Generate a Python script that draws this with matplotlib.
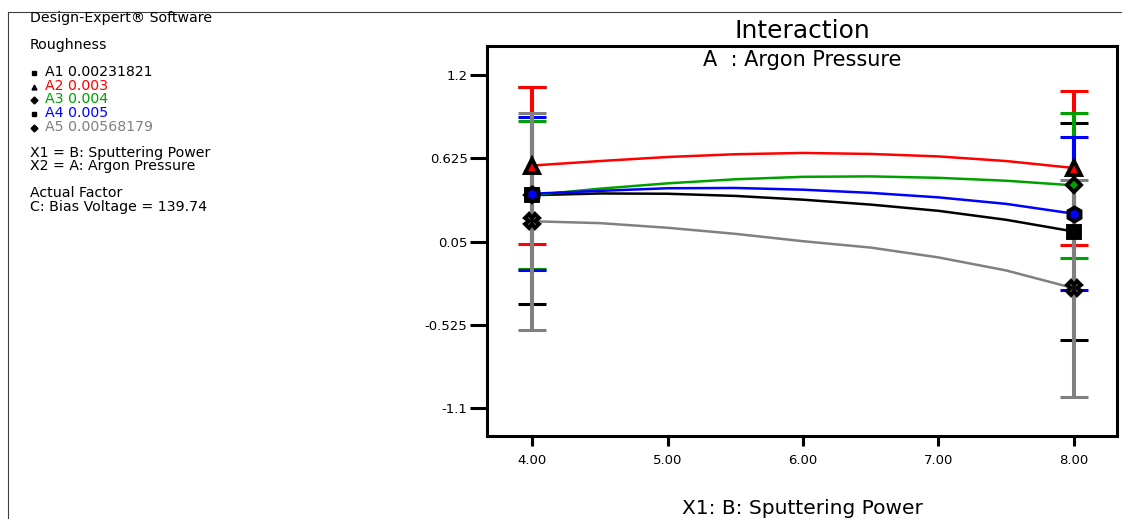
import matplotlib.pyplot as plt

plt.rcParams['font.family'] = ['DejaVu Sans']

# --- data ---
x_power = [4.0, 4.5, 5.0, 5.5, 6.0, 6.5, 7.0, 7.5, 8.0]
a1 = [0.37, 0.382, 0.38, 0.365, 0.339, 0.305, 0.262, 0.20, 0.119]
a2 = [0.575, 0.606, 0.634, 0.653, 0.662, 0.655, 0.638, 0.606, 0.558]
a3 = [0.37, 0.415, 0.452, 0.48, 0.497, 0.50, 0.49, 0.47, 0.438]
a4 = [0.38, 0.40, 0.418, 0.42, 0.408, 0.386, 0.355, 0.31, 0.242]
a5 = [0.19, 0.177, 0.145, 0.103, 0.052, 0.008, -0.06, -0.15, -0.273]

# LSD half widths at the two ends (x = 4 and x = 8)
x_ends = [4.0, 8.0]
lsd_a1 = [0.75, 0.75]
lsd_a2 = [0.54, 0.53]
lsd_a3 = [0.51, 0.50]
lsd_a4 = [0.53, 0.53]
lsd_a5 = [0.75, 0.75]

series_names = ['A1 0.00231821', 'A2 0.003', 'A3 0.004', 'A4 0.005', 'A5 0.00568179']
colors = ['black', '#ff0000', '#00a000', '#0000ff', '#808080']
end_markers = ['s', '^', 'D', 'h', 'X']
legend_markers = ['s', '^', 'D', 's', 'D']

y_ticks = [1.2, 0.625, 0.05, -0.525, -1.1]
y_ticklabels = ['1.2', '0.625', '0.05', '-0.525', '-1.1']
x_ticks = [4.0, 5.0, 6.0, 7.0, 8.0]
x_ticklabels = ['4.00', '5.00', '6.00', '7.00', '8.00']

W, H = 1122, 519
fig = plt.figure(figsize=(W / 100, H / 100), dpi=100)

# overlay in pixel coords for the side text and outer frame
bg = fig.add_axes([0, 0, 1, 1])
bg.set_xlim(0, W)
bg.set_ylim(H, 0)
bg.axis('off')
bg.plot([8, W], [12, 12], color='#404040', lw=0.8)
bg.plot([8, 8], [12, H], color='#404040', lw=0.8)

fs = 10.2
bg.text(30, 18, 'Design-Expert® Software', fontsize=fs, va='center')
bg.text(30, 45, 'Roughness', fontsize=fs, va='center')
item_y = [72, 86, 99, 113, 127]
for name, c, m, yy in zip(series_names, colors, legend_markers, item_y):
    bg.plot(34, yy + 1, marker=m, color='black', markersize=3.5)
    bg.text(45, yy, name, fontsize=fs, va='center', color=c)
bg.text(30, 153, 'X1 = B: Sputtering Power', fontsize=fs, va='center')
bg.text(30, 166, 'X2 = A: Argon Pressure', fontsize=fs, va='center')
bg.text(30, 193, 'Actual Factor', fontsize=fs, va='center')
bg.text(30, 207, 'C: Bias Voltage = 139.74', fontsize=fs, va='center')

bg.text(802, 31, 'Interaction', fontsize=18, ha='center', va='center')
bg.text(802, 518, 'X1: B: Sputtering Power', fontsize=14.5, ha='center', va='bottom')

# main plot
ax = fig.add_axes([487 / W, 1 - 436 / H, (1117 - 487) / W, (436 - 46) / H])
ax.set_xlim(3.667, 8.318)
ax.set_ylim(-1.294, 1.401)

curves = [a1, a2, a3, a4, a5]
lsds = [lsd_a1, lsd_a2, lsd_a3, lsd_a4, lsd_a5]

for y, hw, c in zip(curves, lsds, colors):
    ax.errorbar(x_ends, [y[0], y[-1]], yerr=hw, fmt='none', ecolor=c,
                elinewidth=2.9, capsize=10, capthick=2.2, zorder=2)

for y, c in zip(curves, colors):
    ax.plot(x_power, y, color=c, lw=1.8, zorder=3)

marker_sizes = {'s': 8, '^': 9.5, 'D': 7.5, 'h': 10, 'X': 10}
for y, c, m in zip(curves, colors, end_markers):
    ax.plot(x_ends, [y[0], y[-1]], linestyle='none', marker=m,
            markersize=marker_sizes[m], markerfacecolor=c,
            markeredgecolor='black', markeredgewidth=2.8, zorder=4)

ax.text(0.5, 0.965, 'A  : Argon Pressure', transform=ax.transAxes,
        fontsize=15, ha='center', va='center')

ax.set_yticks(y_ticks)
ax.set_yticklabels(y_ticklabels)
ax.set_xticks(x_ticks)
ax.set_xticklabels(x_ticklabels)
ax.tick_params(axis='y', length=12, width=2.2, labelsize=9.5, pad=2)
ax.tick_params(axis='x', length=7, width=2.2, labelsize=9.5, pad=6)
for s in ax.spines.values():
    s.set_linewidth(2.2)

fig.savefig('out.png', dpi=100)
